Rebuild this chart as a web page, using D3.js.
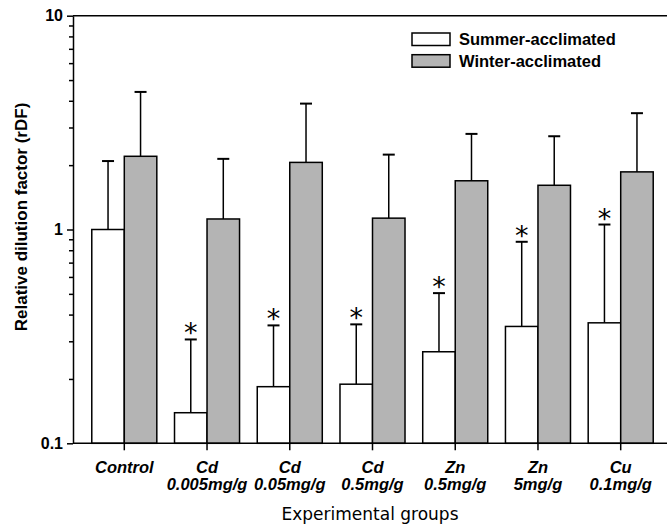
<!DOCTYPE html>
<html>
  <head>
    <style>
      body { margin: 0; background: #fff; font-family: "Liberation Sans", Arial, sans-serif; }
      svg text { fill: #000; }
    </style>
  </head>
  <body>
    <div id="chart"></div>
    <script src="https://d3js.org/d3.v7.min.js"></script>
    <script>
      // values (log axis)
      var groups = ["Control", "Cd 0.005mg/g", "Cd 0.05mg/g", "Cd 0.5mg/g", "Zn 0.5mg/g", "Zn 5mg/g", "Cu 0.1mg/g"];
      var groupLines = [["Control"], ["Cd", "0.005mg/g"], ["Cd", "0.05mg/g"], ["Cd", "0.5mg/g"], ["Zn", "0.5mg/g"], ["Zn", "5mg/g"], ["Cu", "0.1mg/g"]];
      var summer = [1.0, 0.139, 0.184, 0.189, 0.268, 0.352, 0.366];
      var summerUpper = [2.09, 0.306, 0.356, 0.36, 0.504, 0.876, 1.055];
      var winter = [2.20, 1.12, 2.06, 1.13, 1.69, 1.61, 1.86];
      var winterUpper = [4.40, 2.14, 3.88, 2.24, 2.80, 2.73, 3.50];
      var significant = [false, true, true, true, true, true, true];
      var seriesNames = ["Summer-acclimated", "Winter-acclimated"];
      var seriesFill = ["#ffffff", "#b4b4b4"];
      var majorTicks = [0.1, 1, 10];
      var minorTicks = [0.2, 0.3, 0.4, 0.5, 0.6, 0.7, 0.8, 0.9, 2, 3, 4, 5, 6, 7, 8, 9];

      var W = 667, H = 526;
      var mLeft = 73, mRight = 672, mTop = 15.7, mBottom = 443.3;

      var svg = d3.select("#chart").append("svg")
        .attr("width", W)
        .attr("height", H);

      var x = d3.scaleBand()
        .domain(groups)
        .range([mLeft, mRight])
        .paddingInner(0.214)
        .paddingOuter(0.227);

      var xs = d3.scaleBand()
        .domain([0, 1])
        .range([0, x.bandwidth()]);

      var y = d3.scaleLog()
        .domain([0.1, 10])
        .range([mBottom, mTop]);

      var rows = groups.map(function (g, i) {
        return [
          { g: g, s: 0, v: summer[i], up: summerUpper[i], sig: significant[i] },
          { g: g, s: 1, v: winter[i], up: winterUpper[i], sig: false }
        ];
      });

      // frame top line
      svg.append("line")
        .attr("x1", mLeft).attr("x2", W)
        .attr("y1", y(10)).attr("y2", y(10))
        .attr("stroke", "#000").attr("stroke-width", 1.5);

      var grp = svg.append("g").selectAll("g")
        .data(rows)
        .enter().append("g")
          .attr("transform", function (d) { return "translate(" + x(d[0].g) + ",0)"; });

      var bar = grp.selectAll("g")
        .data(function (d) { return d; })
        .enter().append("g");

      // error bars (upper only)
      bar.append("line")
        .attr("x1", function (d) { return xs(d.s) + xs.bandwidth() / 2; })
        .attr("x2", function (d) { return xs(d.s) + xs.bandwidth() / 2; })
        .attr("y1", function (d) { return y(d.v); })
        .attr("y2", function (d) { return y(d.up); })
        .attr("stroke", "#000").attr("stroke-width", 1.5);

      bar.append("line")
        .attr("x1", function (d) { return xs(d.s) + xs.bandwidth() / 2 - 6; })
        .attr("x2", function (d) { return xs(d.s) + xs.bandwidth() / 2 + 6; })
        .attr("y1", function (d) { return y(d.up); })
        .attr("y2", function (d) { return y(d.up); })
        .attr("stroke", "#000").attr("stroke-width", 2);

      bar.append("rect")
        .attr("x", function (d) { return xs(d.s); })
        .attr("width", xs.bandwidth())
        .attr("y", function (d) { return y(d.v); })
        .attr("height", function (d) { return y(0.1) - y(d.v); })
        .attr("fill", function (d) { return seriesFill[d.s]; })
        .attr("stroke", "#000").attr("stroke-width", 1.5);

      bar.filter(function (d) { return d.sig; })
        .append("text")
          .attr("x", function (d) { return xs(d.s) + xs.bandwidth() / 2; })
          .attr("y", function (d) { return y(d.up) + 3; })
          .attr("text-anchor", "middle")
          .style("font-family", "'DejaVu Sans', sans-serif")
          .style("font-size", "27px")
          .text("*");

      // y axis
      var yMinor = svg.append("g")
        .attr("transform", "translate(" + mLeft + ",0)")
        .call(d3.axisLeft(y).tickValues(minorTicks).tickSize(4).tickFormat(""));
      yMinor.select(".domain").remove();
      yMinor.selectAll("line").attr("stroke-width", 1.5);

      var yMajor = svg.append("g")
        .attr("transform", "translate(" + mLeft + ",0)")
        .call(d3.axisLeft(y).tickValues(majorTicks).tickSize(6).tickSizeOuter(0)
          .tickFormat(function (d) { return d === 0.1 ? "0.1" : d3.format("d")(d); }));
      yMajor.select(".domain").attr("stroke-width", 1.5);
      yMajor.selectAll("line").attr("stroke-width", 1.5);
      yMajor.selectAll("text")
        .attr("x", -10)
        .style("font-family", "'Liberation Sans', Arial, sans-serif")
        .style("font-size", "16px")
        .style("font-weight", "bold");

      // x axis
      var xAxis = svg.append("g")
        .attr("transform", "translate(0," + mBottom + ")")
        .call(d3.axisBottom(x).tickSize(7).tickSizeOuter(0).tickFormat(""));
      xAxis.select(".domain").attr("d", "M" + mLeft + ",0H" + W).attr("stroke-width", 1.5);
      xAxis.selectAll("line").attr("stroke-width", 1.5);

      xAxis.selectAll(".tick").each(function (d, i) {
        var t = d3.select(this).append("text")
          .attr("text-anchor", "middle")
          .style("font-family", "'Liberation Sans', Arial, sans-serif")
          .style("font-size", "16.5px")
          .style("font-weight", "bold")
          .style("font-style", "italic")
          .attr("fill", "#000");
        groupLines[i].forEach(function (line, k) {
          t.append("tspan").attr("x", 0).attr("y", 30 + k * 17).text(line);
        });
      });

      // axis titles
      svg.append("text")
        .attr("x", 370)
        .attr("y", 520)
        .attr("text-anchor", "middle")
        .style("font-family", "'DejaVu Sans', sans-serif")
        .style("font-size", "17px")
        .text("Experimental groups");

      svg.append("text")
        .attr("transform", "translate(27,217) rotate(-90)")
        .attr("text-anchor", "middle")
        .style("font-size", "17px")
        .style("font-weight", "bold")
        .text("Relative dilution factor (rDF)");

      // legend
      var legend = svg.append("g")
        .attr("transform", "translate(412,33)")
        .selectAll("g")
        .data(seriesNames)
        .enter().append("g")
          .attr("transform", function (d, i) { return "translate(0," + (i * 21.7) + ")"; });

      legend.append("rect")
        .attr("width", 38).attr("height", 12.5)
        .attr("fill", function (d, i) { return seriesFill[i]; })
        .attr("stroke", "#000").attr("stroke-width", 1.5);

      legend.append("text")
        .attr("x", 47).attr("y", 12)
        .style("font-size", "16.5px")
        .style("font-weight", "bold")
        .text(function (d) { return d; });
    </script>
  </body>
</html>
